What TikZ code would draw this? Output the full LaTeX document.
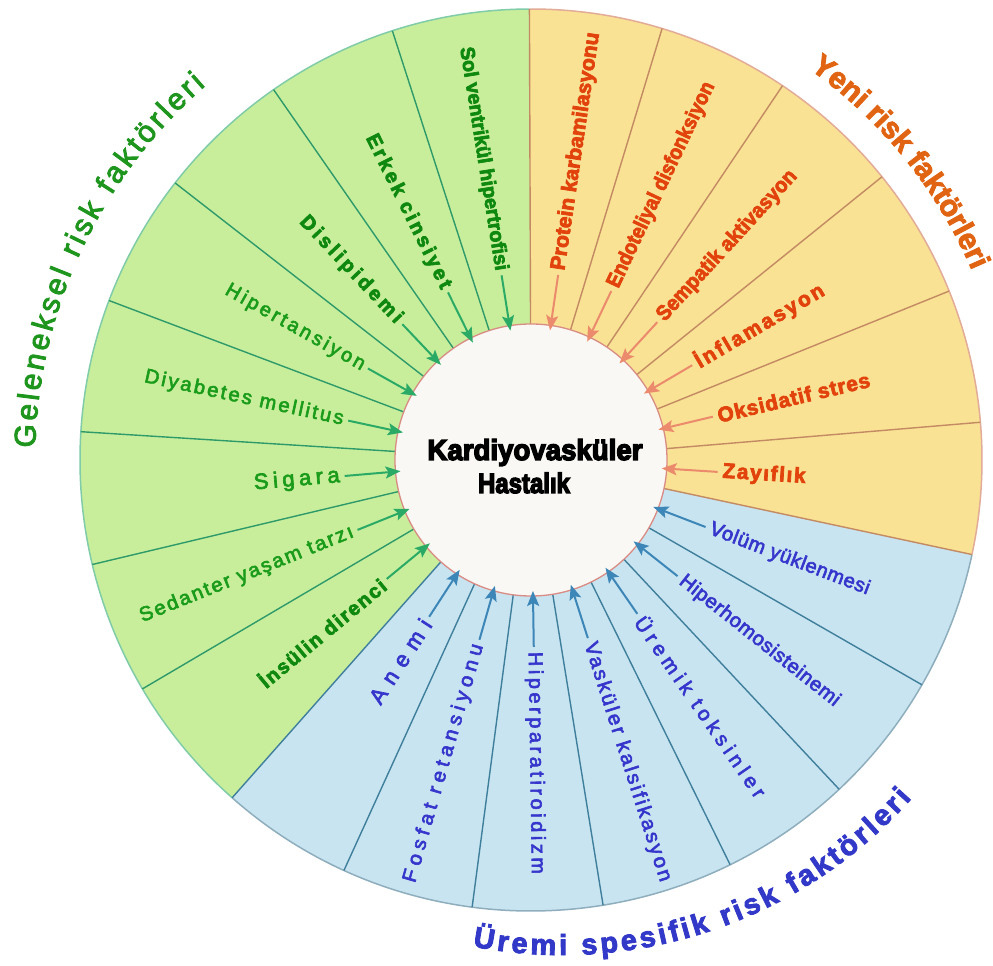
\documentclass[tikz,border=0pt]{standalone}
\usepackage{fontspec}
\usepackage{graphicx}
\setmainfont{Liberation Sans}
\newfontfamily\heavyfont[FakeBold=5]{Liberation Sans Bold}
\newfontfamily\labbold[FakeBold=3.5]{Liberation Sans Bold}
\newfontfamily\labmed[FakeBold=3]{Liberation Sans}
\newfontfamily\titlemed[FakeBold=3]{Liberation Sans}
\newfontfamily\titlebold[FakeBold=3]{Liberation Sans Bold}
\usetikzlibrary{arrows.meta,decorations.text}

\definecolor{gfill}{HTML}{C8EE9C}
\definecolor{ofill}{HTML}{F9E293}
\definecolor{bfill}{HTML}{C8E4F0}
\definecolor{innerfill}{HTML}{FAF8F4}
\definecolor{innerdraw}{HTML}{D98C84}
\definecolor{gdiv}{HTML}{2E9A6A}
\definecolor{odiv}{HTML}{C48A64}
\definecolor{bdiv}{HTML}{3F7F9C}
\definecolor{gborder}{HTML}{80CCA8}
\definecolor{oborder}{HTML}{E2AC98}
\definecolor{bborder}{HTML}{8EAEBE}
\definecolor{garrowc}{HTML}{2BAA66}
\definecolor{oarrowc}{HTML}{EB8A6C}
\definecolor{barrowc}{HTML}{3C86B8}
\definecolor{gtext}{HTML}{1A9C1A}
\definecolor{gbold}{HTML}{0F880F}
\definecolor{otext}{HTML}{E2420C}
\definecolor{btext}{HTML}{3636CC}
\definecolor{gtitle}{HTML}{1E961E}
\definecolor{otitle}{HTML}{E06412}
\definecolor{btitle}{HTML}{3238C8}

\tikzset{
  lab/.style={inner sep=0pt, outer sep=0pt},
  arr/.style={line width=2pt, -{Stealth[length=15pt,width=12pt,inset=3pt]}, shorten <=5pt, shorten >=-5pt},
  garr/.style={arr, draw=garrowc, fill=garrowc},
  oarr/.style={arr, draw=oarrowc, fill=oarrowc},
  barr/.style={arr, draw=barrowc, fill=barrowc},
  gdivline/.style={draw=gdiv, line width=1.4pt},
  odivline/.style={draw=odiv, line width=1.4pt},
  bdivline/.style={draw=bdiv, line width=1.4pt},
}

% #1 name, #2 angle, #3 length, #4 font size, #5 letter space, #6 family, #7 colour, #8 text, #9 arrow style
\newcommand\mylab[9]{%
  \pgfmathtruncatemacro\isleft{and(#2>90,#2<270)}%
  \ifnum\isleft=1
    \node[lab, anchor=east, rotate=#2-180, text=#7] (#1) at (#2:192)
      {#6\fontsize{#4}{#4}\selectfont\addfontfeature{LetterSpace=#5}\resizebox{#3pt}{\height}{#8}};
    \draw[#9] (#1.east) -- (inner);
  \else
    \node[lab, anchor=west, rotate=#2, text=#7] (#1) at (#2:192)
      {#6\fontsize{#4}{#4}\selectfont\addfontfeature{LetterSpace=#5}\resizebox{#3pt}{\height}{#8}};
    \draw[#9] (#1.west) -- (inner);
  \fi
}

\begin{document}
\begin{tikzpicture}[x=1pt,y=1pt]
\useasboundingbox (-531,-506) rectangle (462,460);
\fill[white] (-531,-506) rectangle (462,460);

% sectors
\fill[gfill] (0,0) -- (90.2:451) arc[start angle=90.2, end angle=228.5, radius=451pt] -- cycle;
\fill[bfill] (0,0) -- (228.5:451) arc[start angle=228.5, end angle=347.9, radius=451pt] -- cycle;
\fill[ofill] (0,0) -- (-12.1:451) arc[start angle=-12.1, end angle=90.2, radius=451pt] -- cycle;

% outer border
\draw[gborder, line width=1.5pt] (90.2:451) arc[start angle=90.2, end angle=228.5, radius=451pt];
\draw[bborder, line width=1.5pt] (228.5:451) arc[start angle=228.5, end angle=347.9, radius=451pt];
\draw[oborder, line width=1.5pt] (-12.1:451) arc[start angle=-12.1, end angle=90.2, radius=451pt];

% dividers
\foreach \a in {107.9,124.8,142.1,159.3,176.4,193.4,210.5}
  \draw[gdivline] (\a:136) -- (\a:451);
\foreach \a in {90.2,73.1,56.1,38.9,22.0,4.8,-12.1}
  \draw[odivline] (\a:136) -- (\a:451);
\foreach \a in {-29.9,-46.9,-63.8,-80.8,-97.5,-114.5,-131.5}
  \draw[bdivline] (\a:136) -- (\a:451);

% inner circle
\node[circle, minimum size=272pt, inner sep=0pt, outer sep=0pt, fill=innerfill, draw=innerdraw, line width=1.3pt] (inner) at (0,0) {};

% green labels
\mylab{L1}{99.05}{226}{20}{0}{\labbold}{gbold}{Sol ventrikül hipertrofisi}{garr}
\mylab{L2}{116.35}{170}{20}{14}{\labbold}{gbold}{Erkek cinsiyet}{garr}
\mylab{L3}{133.45}{140}{20}{17}{\labbold}{gbold}{Dislipidemi}{garr}
\mylab{L4}{150.7}{157}{20}{15}{\labmed}{gtext}{Hipertansiyon}{garr}
\mylab{L5}{167.85}{203}{20}{12}{\labmed}{gtext}{Diyabetes mellitus}{garr}
\mylab{L6}{184.9}{86}{22}{20}{\labmed}{gtext}{Sigara}{garr}
\mylab{L7}{201.95}{229}{20}{10}{\labmed}{gtext}{Sedanter yaşam tarzı}{garr}
\mylab{L8}{219.5}{158}{20}{9}{\labbold}{gbold}{İnsülin direnci}{garr}

% orange labels
\mylab{L9}{81.65}{240}{21}{0}{\labbold}{otext}{Protein karbamilasyonu}{oarr}
\mylab{L10}{64.6}{225}{21}{0}{\labbold}{otext}{Endoteliyal disfonksiyon}{oarr}
\mylab{L11}{47.5}{197}{21}{0}{\labbold}{otext}{Sempatik aktivasyon}{oarr}
\mylab{L12}{30.45}{146}{21}{12}{\labbold}{otext}{İnflamasyon}{oarr}
\mylab{L13}{13.4}{156}{21}{4}{\labbold}{otext}{Oksidatif stres}{oarr}
\mylab{L14}{-3.65}{83}{21}{8}{\labbold}{otext}{Zayıflık}{oarr}

% blue labels
\mylab{L15}{-21}{170}{20}{3}{\labmed}{btext}{Volüm yüklenmesi}{barr}
\mylab{L16}{-38.4}{199}{20}{3}{\labmed}{btext}{Hiperhomosisteinemi}{barr}
\mylab{L17}{-55.35}{215}{20}{24}{\labmed}{btext}{Üremik toksinler}{barr}
\mylab{L18}{-72.3}{250}{20}{12}{\labmed}{btext}{Vasküler kalsifikasyon}{barr}
\mylab{L19}{-89.15}{222}{20}{18}{\labmed}{btext}{Hiperparatiroidizm}{barr}
\mylab{L20}{254}{247}{20}{24}{\labmed}{btext}{Fosfat retansiyonu}{barr}
\mylab{L21}{237}{96}{22}{38}{\labmed}{btext}{Anemi}{barr}

% centre text
\node[lab, anchor=base, text=black] (k1) at (4,0)
  {\heavyfont\fontsize{29}{29}\selectfont\resizebox{215pt}{\height}{Kardiyovasküler}};
\node[lab, anchor=base, text=black] (k2) at (-7,-33)
  {\heavyfont\fontsize{28}{28}\selectfont\resizebox{92pt}{\height}{Hastalık}};

% titles along arcs
\path[decorate, decoration={text along path, text align=fit to path, text color=gtitle,
   text={|\titlemed\fontsize{30}{30}\selectfont|Geleneksel risk faktörleri}}]
   (178.6:496) arc[start angle=178.6, end angle=131, radius=496pt];
\path[decorate, decoration={text along path, text align=fit to path, text color=otitle,
   text={|\titlebold\fontsize{30}{30}\selectfont|Yeni risk faktörleri}}]
   (54.5:480) arc[start angle=54.5, end angle=23.4, radius=480pt];
\path[shift={(31,-26)}, decorate, decoration={text along path, text align=fit to path, text color=btitle,
   text={|\titlebold\fontsize{29}{29}\selectfont|Üremi spesifik risk faktörleri}}]
   (-101:469) arc[start angle=-101, end angle=-41.8, radius=469pt];
\end{tikzpicture}
\end{document}
